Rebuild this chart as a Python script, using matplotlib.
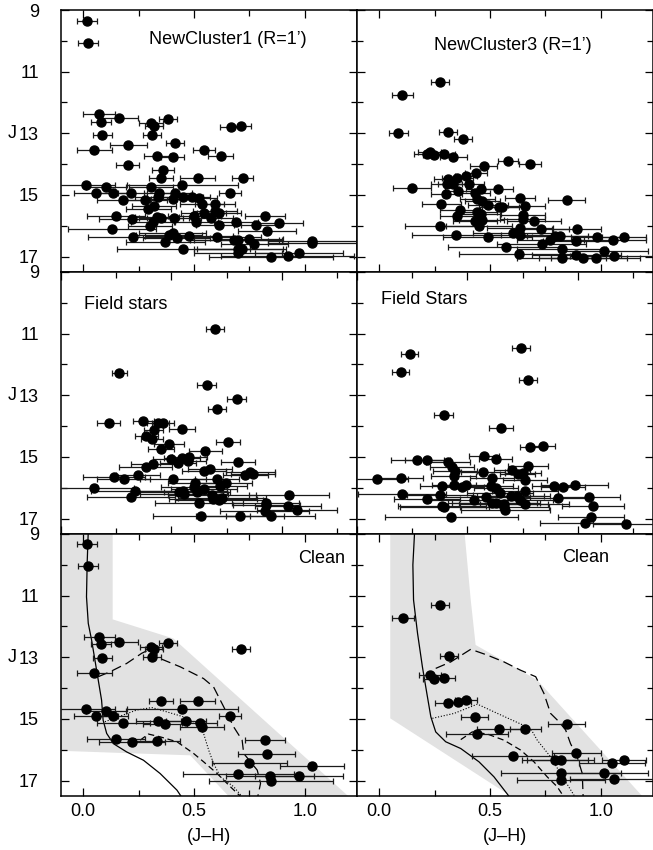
import matplotlib
matplotlib.use("Agg")
import matplotlib.pyplot as plt
import matplotlib.transforms as mtransforms
from matplotlib.patches import Polygon

plt.rcParams['font.family'] = ['Liberation Sans', 'DejaVu Sans']

# ---- NewCluster1, R=1'
nc1_jh = [0.018, 0.023, 0.072, 0.080, 0.163, 0.087, 0.050, 0.204, 0.200, 0.306,
          0.321, 0.382, 0.311, 0.415, 0.333, 0.403, 0.361, 0.352, 0.516, 0.545,
          0.620, 0.665, 0.712, 0.720, 0.447, 0.012, 0.103, 0.305, 0.059, 0.133,
          0.217, 0.343, 0.413, 0.664, 0.181, 0.279, 0.336, 0.405, 0.452, 0.493,
          0.524, 0.537, 0.294, 0.318, 0.594, 0.148, 0.333, 0.352, 0.220, 0.410,
          0.502, 0.543, 0.594, 0.613, 0.576, 0.820, 0.314, 0.510, 0.611, 0.688,
          0.780, 0.882, 0.130, 0.300, 0.828, 0.223, 0.403, 0.388, 0.422, 0.477,
          0.371, 0.604, 0.682, 0.698, 0.750, 0.772, 1.033, 1.033, 0.452, 0.700,
          0.715, 0.698, 0.973, 0.848, 0.923]
nc1_j = [9.36, 10.06, 12.36, 12.62, 12.52, 13.06, 13.55, 13.38, 14.02, 12.68,
         12.76, 12.55, 13.04, 13.31, 13.74, 13.77, 14.20, 14.44, 14.44, 13.55,
         13.74, 12.81, 12.77, 14.44, 14.69, 14.69, 14.74, 14.74, 14.93, 14.93,
         14.95, 14.95, 14.95, 14.95, 15.15, 15.15, 15.08, 15.13, 15.06, 15.06,
         15.11, 15.28, 15.46, 15.36, 15.28, 15.67, 15.73, 15.76, 15.79, 15.76,
         15.69, 15.60, 15.53, 15.60, 15.76, 15.69, 15.87, 15.87, 15.96, 15.89,
         15.96, 15.90, 16.09, 16.00, 16.16, 16.36, 16.22, 16.30, 16.41, 16.33,
         16.52, 16.38, 16.47, 16.47, 16.44, 16.60, 16.49, 16.56, 16.74, 16.74,
         16.74, 16.87, 16.87, 17.00, 16.98]
nc1_err = [0.045, 0.046, 0.071, 0.044, 0.085, 0.044, 0.079, 0.083, 0.051, 0.053,
           0.040, 0.040, 0.041, 0.041, 0.060, 0.050, 0.050, 0.054, 0.079, 0.049,
           0.057, 0.050, 0.045, 0.048, 0.250, 0.130, 0.090, 0.100, 0.100, 0.070,
           0.070, 0.070, 0.080, 0.050, 0.120, 0.100, 0.100, 0.100, 0.090, 0.080,
           0.080, 0.100, 0.100, 0.100, 0.090, 0.130, 0.100, 0.100, 0.150, 0.120,
           0.120, 0.100, 0.100, 0.100, 0.100, 0.090, 0.100, 0.100, 0.100, 0.100,
           0.100, 0.110, 0.200, 0.100, 0.130, 0.200, 0.150, 0.150, 0.150, 0.200,
           0.180, 0.200, 0.200, 0.200, 0.150, 0.150, 0.200, 0.200, 0.300, 0.200,
           0.200, 0.200, 0.200, 0.280, 0.300]

# ---- NewCluster3, R=1'
nc3_jh = [0.275, 0.105, 0.087, 0.312, 0.378, 0.227, 0.215, 0.246, 0.294, 0.335,
          0.471, 0.581, 0.680, 0.435, 0.309, 0.353, 0.390, 0.305, 0.335, 0.405,
          0.150, 0.356, 0.461, 0.537, 0.302, 0.431, 0.443, 0.465, 0.635, 0.845,
          0.281, 0.492, 0.542, 0.553, 0.656, 0.365, 0.443, 0.458, 0.353, 0.647,
          0.647, 0.431, 0.462, 0.698, 0.275, 0.450, 0.635, 0.728, 0.890, 0.604,
          0.635, 0.348, 0.490, 0.772, 0.793, 0.817, 0.889, 0.983, 1.054, 1.104,
          0.733, 0.571, 0.823, 1.014, 0.631, 0.823, 0.889, 0.919, 0.976, 1.059]
nc3_j = [11.33, 11.76, 13.00, 12.97, 13.19, 13.60, 13.68, 13.71, 13.68, 13.78,
         14.05, 13.90, 14.01, 14.28, 14.48, 14.45, 14.39, 14.63, 14.63, 14.66,
         14.77, 14.88, 14.81, 14.80, 14.98, 14.95, 15.14, 15.20, 15.10, 15.18,
         15.30, 15.33, 15.38, 15.38, 15.35, 15.49, 15.55, 15.62, 15.69, 15.66,
         15.78, 15.83, 15.80, 15.86, 16.00, 16.01, 16.07, 16.10, 16.12, 16.22,
         16.31, 16.31, 16.37, 16.45, 16.33, 16.33, 16.49, 16.37, 16.46, 16.37,
         16.59, 16.69, 16.75, 16.81, 16.93, 17.03, 16.95, 17.06, 17.06, 16.99]
nc3_err = [0.041, 0.048, 0.041, 0.041, 0.040, 0.050, 0.060, 0.050, 0.050, 0.060,
           0.060, 0.047, 0.049, 0.050, 0.060, 0.070, 0.050, 0.070, 0.070, 0.070,
           0.086, 0.060, 0.070, 0.065, 0.070, 0.070, 0.080, 0.080, 0.068, 0.084,
           0.090, 0.090, 0.090, 0.090, 0.090, 0.090, 0.090, 0.090, 0.080, 0.100,
           0.100, 0.100, 0.100, 0.120, 0.160, 0.150, 0.150, 0.130, 0.110, 0.180,
           0.150, 0.200, 0.200, 0.150, 0.150, 0.150, 0.150, 0.120, 0.150, 0.100,
           0.200, 0.260, 0.200, 0.200, 0.270, 0.200, 0.200, 0.200, 0.200, 0.200]

# ---- field stars around NewCluster1
fld1_jh = [0.698, 0.264, 0.660, 0.795, 0.707, 0.216, 0.372, 0.440, 0.463, 0.548,
           0.419, 0.387, 0.411, 0.487, 0.452, 0.757, 0.654, 0.497, 0.548, 0.581,
           0.576, 0.529, 0.416, 0.384, 0.800, 0.646, 0.673, 0.241, 0.285, 0.349,
           0.507, 0.708, 0.857, 0.835, 0.869, 0.150, 0.605, 0.745, 0.722, 0.602,
           0.646, 0.335, 0.317, 0.532, 0.552, 0.558, 0.616, 0.684, 0.688, 0.714,
           0.728, 0.626, 1.032, 0.926, 0.930, 1.028, 1.069, 0.922, 0.635, 0.811,
           0.949]
fld1_j = [10.85, 12.29, 12.65, 13.12, 13.46, 13.91, 13.83, 13.91, 13.91, 14.08,
          14.12, 14.31, 14.41, 14.57, 14.74, 14.51, 14.82, 15.07, 15.02, 14.99,
          15.12, 15.19, 15.22, 15.34, 15.16, 15.44, 15.39, 15.66, 15.70, 15.58,
          15.73, 15.72, 15.48, 15.58, 15.56, 16.00, 15.84, 15.85, 15.94, 15.99,
          16.04, 16.10, 16.30, 16.15, 16.11, 16.21, 16.13, 16.24, 16.38, 16.41,
          16.33, 16.48, 16.23, 16.48, 16.56, 16.60, 16.71, 16.77, 16.92, 16.92,
          16.92]
fld1_err = [0.040, 0.035, 0.043, 0.043, 0.042, 0.052, 0.048, 0.050, 0.050, 0.057,
            0.045, 0.050, 0.050, 0.068, 0.060, 0.055, 0.076, 0.080, 0.080, 0.080,
            0.080, 0.080, 0.100, 0.120, 0.076, 0.100, 0.100, 0.140, 0.120, 0.100,
            0.150, 0.100, 0.110, 0.100, 0.100, 0.180, 0.120, 0.120, 0.120, 0.150,
            0.150, 0.200, 0.200, 0.200, 0.200, 0.200, 0.150, 0.200, 0.200, 0.200,
            0.200, 0.200, 0.180, 0.150, 0.150, 0.150, 0.180, 0.200, 0.220, 0.200,
            0.200]

# ---- field stars around NewCluster3
fld3_jh = [0.742, 0.238, 0.197, 0.774, 0.392, 0.651, 0.784, 0.840, 0.575, 0.628,
           0.272, 0.319, 0.412, 0.431, 0.442, 0.437, 0.571, 0.702, 0.727, 0.751,
           0.774, 0.090, 0.200, 0.610, 0.759, 0.383, 0.439, 0.476, 0.494, 0.605,
           0.630, 0.892, 0.931, 0.985, 0.203, 0.376, 0.316, 0.649, 0.695, 0.724,
           0.762, 0.738, 0.529, 0.585, 0.910, 1.050, 0.386, 0.396, 0.613, 0.628,
           0.664, 0.667, 0.672, 0.759, 1.068, 0.427, 1.059, 1.030, 1.218]
fld3_j = [11.48, 11.67, 12.24, 12.51, 13.65, 14.07, 14.67, 14.63, 14.96, 15.07,
          15.11, 15.11, 15.18, 15.34, 15.45, 15.61, 15.48, 15.43, 15.56, 15.51,
          15.30, 15.72, 15.67, 15.67, 15.76, 15.94, 15.92, 15.98, 15.92, 15.95,
          16.00, 15.94, 15.98, 15.90, 16.19, 16.24, 16.37, 16.16, 16.27, 16.27,
          16.12, 16.40, 16.39, 16.30, 16.33, 16.30, 16.59, 16.62, 16.49, 16.48,
          16.53, 16.62, 16.73, 16.53, 16.59, 16.94, 16.95, 17.14, 17.18]
fld3_err = [0.040, 0.037, 0.037, 0.039, 0.042, 0.053, 0.048, 0.056, 0.070, 0.075,
            0.120, 0.100, 0.100, 0.100, 0.100, 0.100, 0.100, 0.080, 0.080, 0.080,
            0.090, 0.140, 0.100, 0.100, 0.100, 0.100, 0.100, 0.100, 0.100, 0.100,
            0.100, 0.100, 0.100, 0.150, 0.200, 0.150, 0.150, 0.150, 0.150, 0.150,
            0.150, 0.150, 0.200, 0.200, 0.150, 0.140, 0.200, 0.200, 0.200, 0.200,
            0.200, 0.200, 0.200, 0.200, 0.140, 0.300, 0.150, 0.200, 0.150]

# ---- decontaminated NewCluster1
cln1_jh = [0.018, 0.023, 0.072, 0.080, 0.163, 0.305, 0.321, 0.382, 0.087, 0.311,
           0.050, 0.710, 0.352, 0.516, 0.447, 0.012, 0.103, 0.059, 0.133, 0.664,
           0.181, 0.339, 0.370, 0.462, 0.525, 0.537, 0.819, 0.148, 0.220, 0.335,
           0.827, 0.750, 1.033, 0.699, 0.973, 0.842, 0.848]
cln1_j = [9.34, 10.03, 12.33, 12.58, 12.50, 12.66, 12.73, 12.53, 13.02, 13.00,
          13.52, 12.73, 14.42, 14.42, 14.68, 14.68, 14.73, 14.91, 14.91, 14.92,
          15.13, 15.06, 15.17, 15.06, 15.12, 15.26, 15.67, 15.65, 15.76, 15.71,
          16.15, 16.42, 16.53, 16.79, 16.85, 16.85, 17.01]
cln1_err = [0.045, 0.046, 0.070, 0.044, 0.085, 0.050, 0.040, 0.040, 0.044, 0.041,
            0.079, 0.041, 0.054, 0.078, 0.250, 0.130, 0.090, 0.100, 0.070, 0.050,
            0.120, 0.100, 0.100, 0.090, 0.080, 0.100, 0.090, 0.130, 0.150, 0.100,
            0.130, 0.170, 0.145, 0.250, 0.200, 0.200, 0.280]

# ---- decontaminated NewCluster3
cln3_jh = [0.275, 0.107, 0.314, 0.230, 0.248, 0.293, 0.311, 0.356, 0.390, 0.431,
           0.539, 0.658, 0.845, 0.443, 0.889, 0.605, 0.793, 0.818, 1.051, 1.104,
           0.820, 1.014, 1.059, 0.820]
cln3_j = [11.31, 11.74, 12.95, 13.58, 13.69, 13.67, 14.47, 14.44, 14.39, 14.93,
          15.33, 15.33, 15.15, 15.50, 16.09, 16.21, 16.32, 16.32, 16.42, 16.34,
          16.74, 16.77, 16.96, 16.99]
cln3_err = [0.041, 0.048, 0.041, 0.050, 0.050, 0.050, 0.060, 0.060, 0.050, 0.060,
            0.100, 0.070, 0.084, 0.140, 0.110, 0.185, 0.150, 0.150, 0.150, 0.100,
            0.270, 0.200, 0.200, 0.200]

# ---- colour-magnitude filters (shaded areas)
filt1_jh = [-0.2, 0.133, 0.133, 0.407, 1.195, 0.655, 0.483, -0.2]
filt1_j = [8.8, 8.8, 11.77, 12.39, 17.5, 17.5, 16.18, 16.01]
filt3_jh = [0.05, 0.383, 0.413, 0.435, 0.713, 1.186, 0.593, 0.05]
filt3_j = [8.8, 8.8, 11.14, 12.6, 13.74, 17.5, 17.5, 14.98]

# ---- isochrones, NewCluster1
iso1_a_jh = [0.023, 0.018, 0.015, 0.023, 0.038, 0.053, 0.068, 0.083, 0.090,
             0.106, 0.136, 0.196, 0.272, 0.347, 0.423, 0.450]
iso1_a_j = [8.9, 9.95, 11.04, 11.90, 12.44, 13.09, 13.74, 14.39, 15.04,
            15.47, 15.80, 16.07, 16.34, 16.77, 17.31, 17.6]
iso1_b_jh = [0.068, 0.121, 0.196, 0.264, 0.310, 0.347, 0.438, 0.543, 0.588,
             0.634, 0.679, 0.717, 0.724, 0.785, 0.800, 0.785]
iso1_b_j = [13.63, 13.47, 13.20, 12.87, 12.71, 13.04, 13.31, 13.69, 13.96,
            14.61, 15.26, 15.69, 16.12, 16.66, 17.09, 17.6]
iso1_c_jh = [0.098, 0.158, 0.242, 0.310, 0.377, 0.452, 0.513, 0.543, 0.566,
             0.588, 0.619, 0.679, 0.720]
iso1_c_j = [15.09, 14.93, 14.71, 14.63, 14.77, 14.93, 15.15, 15.47, 16.01,
            16.44, 16.88, 17.20, 17.55]
iso1_d_jh = [0.257, 0.294, 0.347, 0.423, 0.498, 0.543, 0.604, 0.664, 0.715]
iso1_d_j = [15.69, 15.49, 15.58, 15.74, 16.12, 16.39, 16.77, 17.20, 17.55]

# ---- isochrones, NewCluster3
iso3_a_jh = [0.160, 0.152, 0.155, 0.173, 0.195, 0.215, 0.233, 0.255, 0.300,
             0.368, 0.450, 0.518, 0.590]
iso3_a_j = [8.9, 10.0, 11.14, 12.22, 13.31, 14.17, 14.93, 15.42, 15.74,
            15.96, 16.39, 16.88, 17.55]
iso3_b_jh = [0.255, 0.323, 0.413, 0.488, 0.563, 0.638, 0.706, 0.743, 0.773,
             0.811, 0.841, 0.863, 0.893, 0.916, 0.920]
iso3_b_j = [13.36, 13.15, 12.74, 12.93, 13.15, 13.42, 13.63, 14.17, 14.82,
            15.09, 15.36, 15.80, 16.23, 16.77, 17.55]
iso3_c_jh = [0.240, 0.338, 0.443, 0.533, 0.683, 0.713, 0.773, 0.818, 0.885]
iso3_c_j = [14.98, 14.82, 14.52, 14.82, 15.31, 15.69, 16.23, 16.77, 17.55]
iso3_d_jh = [0.368, 0.420, 0.488, 0.563, 0.638, 0.698, 0.758, 0.803, 0.835]
iso3_d_j = [15.67, 15.42, 15.49, 15.69, 16.01, 16.39, 16.88, 17.20, 17.55]


def cmd_points(ax, jh, j, err):
    ax.errorbar(jh, j, xerr=err, fmt='o', color='black', ms=6.5,
                ecolor='#1a1a1a', elinewidth=0.9, capsize=2.2, capthick=0.9,
                zorder=3)


def isochrones(ax, a, b, c, d):
    ax.plot(*a, color='black', lw=0.9, zorder=2)
    ax.plot(*b, color='black', lw=0.9, dashes=(8, 4), zorder=2)
    ax.plot(*c, color='black', lw=0.8, dashes=(1, 1.6), zorder=2)
    ax.plot(*d, color='black', lw=0.9, dashes=(5, 3), zorder=2)


fig = plt.figure(figsize=(6.53, 8.5), dpi=100)
W, H = 653.0, 850.0
col_left = [61, 357]
row_top = [10, 272, 534]
axes = {}
for r, top in enumerate(row_top):
    for c, left in enumerate(col_left):
        ax = fig.add_axes([left / W, 1 - (top + 262) / H, 296 / W, 262 / H])
        axes[r, c] = ax

for (r, c), ax in axes.items():
    if r == 1:
        ax.set_xlim(0.0, 1.34)
        ax.set_xticks([0.25, 0.75, 1.25], minor=True)
    else:
        ax.set_xlim(-0.1, 1.235)
        ax.set_xticks([0.25, 0.75], minor=True)
    ax.set_xticks([0.0, 0.5, 1.0])
    ax.set_ylim(17.5, 9)
    ax.set_yticks([9, 11, 13, 15, 17])
    ax.set_yticks([10, 12, 14, 16], minor=True)
    ax.tick_params(which='both', direction='in', top=True, right=True,
                   width=0.9, labelsize=13)
    ax.tick_params(which='major', length=6)
    ax.tick_params(which='minor', length=4)
    ax.tick_params(axis='y', pad=16)
    ax.tick_params(axis='x', pad=5)
    for s in ax.spines.values():
        s.set_linewidth(1.1)
    if r == 2:
        ax.set_xticklabels(['0.0', '0.5', '1.0'])
        ax.set_xlabel('(J–H)', fontsize=13, labelpad=6)
    else:
        ax.set_xticklabels([])
    if c == 0:
        ax.set_yticklabels(['9', '11', '13', '15', '17'])
        trans = mtransforms.blended_transform_factory(ax.transAxes, ax.transData)
        ax.text(-0.164, 13, 'J', transform=trans, ha='center', va='center',
                fontsize=13)
    else:
        ax.set_yticklabels([])

# top row: cluster areas
cmd_points(axes[0, 0], nc1_jh, nc1_j, nc1_err)
cmd_points(axes[0, 1], nc3_jh, nc3_j, nc3_err)
axes[0, 0].text(0.564, 0.870, 'NewCluster1 (R=1’)', transform=axes[0, 0].transAxes,
                ha='center', va='baseline', fontsize=13)
axes[0, 1].text(0.527, 0.847, 'NewCluster3 (R=1’)', transform=axes[0, 1].transAxes,
                ha='center', va='baseline', fontsize=13)

# middle row: comparison fields
cmd_points(axes[1, 0], fld1_jh, fld1_j, fld1_err)
cmd_points(axes[1, 1], fld3_jh, fld3_j, fld3_err)
axes[1, 0].text(0.078, 0.857, 'Field stars', transform=axes[1, 0].transAxes,
                ha='left', va='baseline', fontsize=13)
axes[1, 1].text(0.081, 0.878, 'Field Stars', transform=axes[1, 1].transAxes,
                ha='left', va='baseline', fontsize=13)

# bottom row: field-subtracted CMDs with filters and isochrones
for ax, fx, fy in ((axes[2, 0], filt1_jh, filt1_j), (axes[2, 1], filt3_jh, filt3_j)):
    ax.add_patch(Polygon(list(zip(fx, fy)), closed=True, facecolor='#e2e2e2',
                         edgecolor='none', zorder=0))
isochrones(axes[2, 0], (iso1_a_jh, iso1_a_j), (iso1_b_jh, iso1_b_j),
           (iso1_c_jh, iso1_c_j), (iso1_d_jh, iso1_d_j))
isochrones(axes[2, 1], (iso3_a_jh, iso3_a_j), (iso3_b_jh, iso3_b_j),
           (iso3_c_jh, iso3_c_j), (iso3_d_jh, iso3_d_j))
cmd_points(axes[2, 0], cln1_jh, cln1_j, cln1_err)
cmd_points(axes[2, 1], cln3_jh, cln3_j, cln3_err)
axes[2, 0].text(0.959, 0.888, 'Clean', transform=axes[2, 0].transAxes,
                ha='right', va='baseline', fontsize=13)
axes[2, 1].text(0.852, 0.892, 'Clean', transform=axes[2, 1].transAxes,
                ha='right', va='baseline', fontsize=13)

fig.savefig('out.png', dpi=100)
